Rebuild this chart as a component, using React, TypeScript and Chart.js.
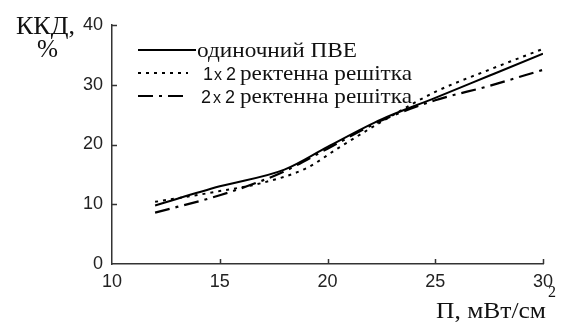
import { useEffect, useRef } from "react";
import { Chart, registerables } from "chart.js";

Chart.register(...registerables);

// Power density, mW/cm^2, and efficiency, %, for each configuration
const powerSingle = [12, 15, 18, 20, 22.5, 25, 27.5, 30];
const effSingle = [9.8, 13.0, 15.8, 19.6, 24.2, 27.8, 31.5, 35.2];

const power1x2 = [12, 15, 17, 19, 20.5, 22.5, 25, 27.5, 30];
const eff1x2 = [10.4, 12.2, 13.6, 16.0, 19.4, 23.8, 28.8, 32.5, 36.0];

const power2x2 = [12, 15, 17, 18, 20, 22.5, 25, 27.5, 30];
const eff2x2 = [8.6, 11.5, 14.0, 15.5, 19.3, 24.0, 27.4, 29.8, 32.5];

const xTicks = [10, 15, 20, 25, 30];
const yTicks = [0, 10, 20, 30, 40];

const yTitle = ["ККД,", "%"];
const xTitle = "П, мВт/см";
const xTitleSup = "2";
const legendSingle = "одиночний ПВЕ";
const legendArray = "ректенна решітка";
const arraySizes = [["1", "2"], ["2", "2"]];

const dashDotted = [3, 5];
const dashDashDot = [15, 6, 3, 6];

const SERIF = "'Liberation Serif', 'DejaVu Serif', serif";
const SANS = "'Liberation Sans', Arial, sans-serif";

const toPoints = (xs: number[], ys: number[]) => xs.map((x, i) => ({ x, y: ys[i] }));

// draws left-aligned text stretched or squeezed to the given width
function fitText(ctx: CanvasRenderingContext2D, text: string, x: number, y: number, width: number) {
  const w = ctx.measureText(text).width;
  ctx.save();
  ctx.translate(x, y);
  ctx.scale(width / w, 1);
  ctx.textAlign = "left";
  ctx.fillText(text, 0, 0);
  ctx.restore();
}

const decor = {
  id: "decor",
  afterDraw(chart: any) {
    const { ctx } = chart;
    const x = chart.scales.x;
    const y = chart.scales.y;
    ctx.save();

    // inward tick marks
    ctx.strokeStyle = "#333";
    ctx.lineWidth = 1.5;
    ctx.beginPath();
    xTicks.slice(1).forEach((v) => {
      const px = Math.round(x.getPixelForValue(v)) + 0.5;
      ctx.moveTo(px, y.bottom);
      ctx.lineTo(px, y.bottom - 5);
    });
    yTicks.slice(1).forEach((v) => {
      const py = Math.round(y.getPixelForValue(v)) + 0.5;
      ctx.moveTo(x.left, py);
      ctx.lineTo(x.left + 5, py);
    });
    ctx.stroke();

    ctx.fillStyle = "#111";
    ctx.textBaseline = "alphabetic";

    // y-axis title
    ctx.font = `26px ${SERIF}`;
    fitText(ctx, yTitle[0], 16, 34, 59);
    fitText(ctx, yTitle[1], 37, 57, 21);

    // x-axis title with superscript
    ctx.font = `24px ${SERIF}`;
    fitText(ctx, xTitle, 436, 318, 110);
    ctx.font = `16px ${SERIF}`;
    ctx.textAlign = "left";
    ctx.fillText(xTitleSup, 548, 297);

    // legend
    const rows = [
      { y: 50, dash: [] as number[] },
      { y: 73, dash: dashDotted },
      { y: 96, dash: dashDashDot },
    ];
    ctx.strokeStyle = "#000";
    ctx.lineWidth = 2;
    rows.forEach((r, i) => {
      ctx.setLineDash(r.dash);
      ctx.beginPath();
      ctx.moveTo(138, r.y);
      ctx.lineTo(i === 0 ? 196 : 188, r.y);
      ctx.stroke();
    });
    ctx.setLineDash([]);

    ctx.font = `22px ${SERIF}`;
    fitText(ctx, legendSingle, 197, rows[0].y + 7, 160);

    const digitX = [
      [203, 214, 226],
      [201, 213, 225],
    ];
    arraySizes.forEach((pair, i) => {
      const by = rows[i + 1].y + 7;
      const [x1, xm, x2] = digitX[i];
      ctx.textAlign = "left";
      ctx.font = `18px ${SANS}`;
      ctx.fillText(pair[0], x1, by);
      ctx.font = `16px ${SANS}`;
      ctx.fillText("x", xm, by);
      ctx.font = `18px ${SANS}`;
      ctx.fillText(pair[1], x2, by);
      ctx.font = `22px ${SERIF}`;
      fitText(ctx, legendArray, 240, by, 172);
    });

    ctx.restore();
  },
};

export default function App() {
  const canvasRef = useRef<HTMLCanvasElement | null>(null);

  useEffect(() => {
    document.body.style.margin = "0";
    const canvas = canvasRef.current;
    if (!canvas) return;

    const lineBase = {
      borderColor: "#000",
      backgroundColor: "#000",
      borderWidth: 2,
      pointRadius: 0,
      fill: false,
      cubicInterpolationMode: "monotone" as const,
    };

    const chart = new Chart(canvas, {
      type: "line",
      data: {
        datasets: [
          { ...lineBase, label: legendSingle, data: toPoints(powerSingle, effSingle) },
          {
            ...lineBase,
            label: "1x2 " + legendArray,
            data: toPoints(power1x2, eff1x2),
            borderDash: dashDotted,
          },
          {
            ...lineBase,
            label: "2x2 " + legendArray,
            data: toPoints(power2x2, eff2x2),
            borderDash: dashDashDot,
            borderWidth: 2.2,
          },
        ],
      },
      options: {
        responsive: false,
        animation: false,
        devicePixelRatio: 1,
        layout: { padding: { left: 0, top: 25, right: 30, bottom: 0 } },
        plugins: {
          legend: { display: false },
          tooltip: { enabled: false },
          title: { display: false },
        },
        scales: {
          x: {
            type: "linear",
            min: 10,
            max: 30,
            afterBuildTicks: (s: any) => {
              s.ticks = xTicks.map((v) => ({ value: v }));
            },
            afterFit: (s: any) => {
              s.height = 65;
            },
            ticks: {
              font: { family: SANS, size: 18 },
              color: "#222",
              padding: 7,
              maxRotation: 0,
            },
            grid: { display: true, drawOnChartArea: false, drawTicks: false },
            border: { display: true, color: "#333", width: 1.5 },
          },
          y: {
            type: "linear",
            min: 0,
            max: 40,
            afterBuildTicks: (s: any) => {
              s.ticks = yTicks.map((v) => ({ value: v }));
            },
            afterFit: (s: any) => {
              s.width = 112;
            },
            ticks: {
              font: { family: SANS, size: 18 },
              color: "#222",
              padding: 9,
            },
            grid: { display: true, drawOnChartArea: false, drawTicks: false },
            border: { display: true, color: "#333", width: 1.5 },
          },
        },
      },
      plugins: [decor],
    });

    return () => chart.destroy();
  }, []);

  return (
    <div style={{ position: "fixed", left: 0, top: 0, width: 573, height: 329, background: "#fff" }}>
      <canvas ref={canvasRef} width={573} height={329} style={{ display: "block" }} />
    </div>
  );
}
